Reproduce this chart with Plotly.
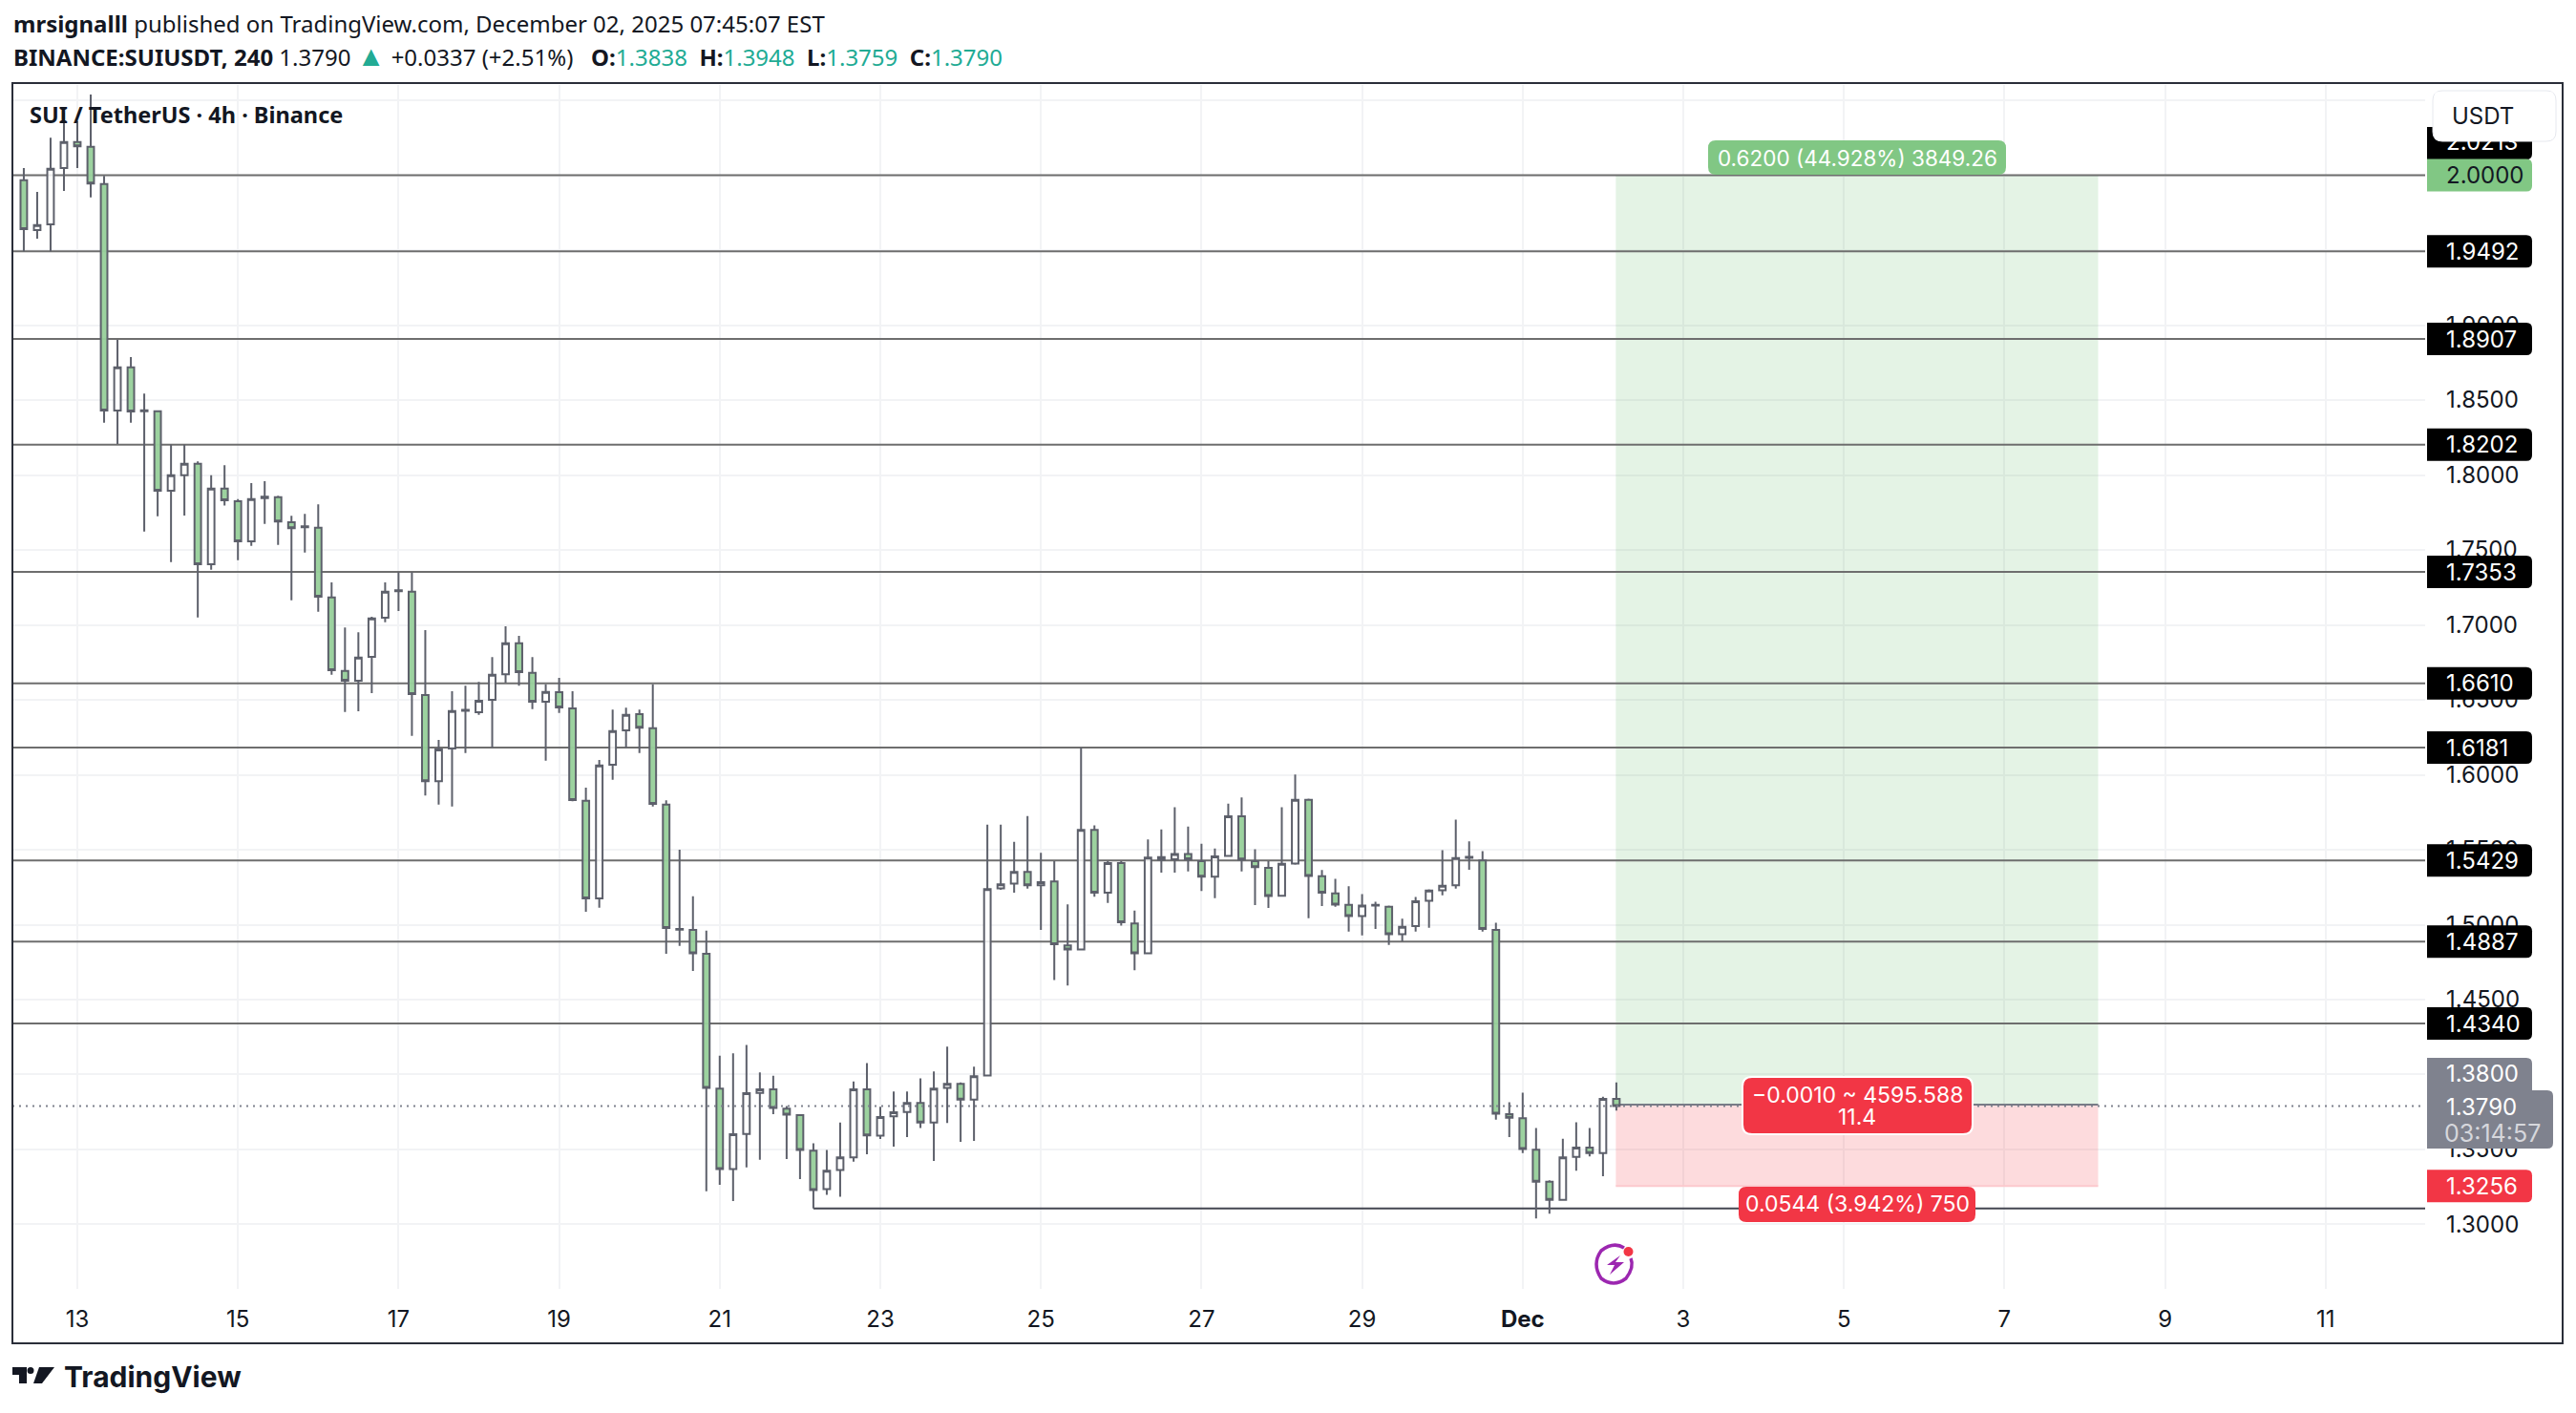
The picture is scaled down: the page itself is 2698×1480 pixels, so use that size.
import pandas as pd
import plotly.graph_objects as go

# 4h candles, first one is Nov 12 08:00
dates = pd.date_range("2025-11-12 08:00", periods=120, freq="4h")

opens = [1.9967, 1.9634, 1.9672, 2.0048, 2.0222, 2.0190, 1.9941, 1.8430, 1.8719, 1.8432,
         1.8425, 1.7895, 1.7999, 1.8075, 1.7404, 1.7910, 1.7825, 1.7557, 1.7855, 1.7852,
         1.7685, 1.7658, 1.7648, 1.7183, 1.6693, 1.6627, 1.6787, 1.7048, 1.7225, 1.7222,
         1.6532, 1.5957, 1.6175, 1.6427, 1.6417, 1.6500, 1.6670, 1.6878, 1.6680, 1.6487,
         1.6551, 1.6443, 1.5827, 1.5175, 1.6067, 1.6296, 1.6404, 1.6311, 1.5801, 1.4972,
         1.4965, 1.4806, 1.3906, 1.3370, 1.3604, 1.3877, 1.3902, 1.3772, 1.3729, 1.3492,
         1.3236, 1.3363, 1.3448, 1.3902, 1.3592, 1.3721, 1.3750, 1.3811, 1.3680, 1.3911,
         1.3938, 1.3833, 1.3994, 1.5242, 1.5274, 1.5352, 1.5262, 1.5289, 1.4862, 1.4835,
         1.5632, 1.5213, 1.5411, 1.5008, 1.4809, 1.5450, 1.5437, 1.5472, 1.5423, 1.5320,
         1.5459, 1.5723, 1.5423, 1.5379, 1.5192, 1.5408, 1.5833, 1.5323, 1.5209, 1.5132,
         1.5058, 1.5128, 1.5119, 1.4937, 1.4990, 1.5160, 1.5230, 1.5262, 1.5446, 1.5429,
         1.4965, 1.3735, 1.3709, 1.3499, 1.3285, 1.3164, 1.3450, 1.3512, 1.3476, 1.3838]
highs = [2.0048, 1.9889, 2.0250, 2.0417, 2.0362, 2.0538, 1.9995, 1.8901, 1.8787, 1.8543,
         1.8430, 1.8203, 1.8203, 1.8091, 1.7999, 1.8065, 1.7839, 1.7946, 1.7959, 1.7861,
         1.7727, 1.7740, 1.7804, 1.7283, 1.6982, 1.6950, 1.7054, 1.7283, 1.7352, 1.7352,
         1.6965, 1.6232, 1.6557, 1.6594, 1.6619, 1.6785, 1.6990, 1.6927, 1.6785, 1.6604,
         1.6646, 1.6557, 1.5914, 1.6099, 1.6434, 1.6447, 1.6434, 1.6604, 1.5829, 1.5500,
         1.5189, 1.4960, 1.4126, 1.4141, 1.4197, 1.4014, 1.3992, 1.3789, 1.3729, 1.3541,
         1.3497, 1.3680, 1.3953, 1.4077, 1.3785, 1.3887, 1.3887, 1.3975, 1.4021, 1.4187,
         1.3948, 1.4053, 1.5667, 1.5667, 1.5552, 1.5725, 1.5479, 1.5423, 1.5135, 1.6181,
         1.5662, 1.5423, 1.5423, 1.5094, 1.5569, 1.5635, 1.5784, 1.5654, 1.5540, 1.5508,
         1.5808, 1.5849, 1.5503, 1.5423, 1.5784, 1.6001, 1.5841, 1.5364, 1.5306, 1.5257,
         1.5204, 1.5153, 1.5128, 1.5039, 1.5185, 1.5236, 1.5497, 1.5701, 1.5555, 1.5491,
         1.5013, 1.3815, 1.3879, 1.3643, 1.3295, 1.3571, 1.3682, 1.3643, 1.3852, 1.3948]
lows = [1.9492, 1.9576, 1.9492, 1.9895, 2.0048, 1.9852, 1.8349, 1.8207, 1.8349, 1.7623,
        1.7725, 1.7419, 1.7729, 1.7050, 1.7368, 1.7797, 1.7432, 1.7527, 1.7674, 1.7534,
        1.7164, 1.7483, 1.7088, 1.6668, 1.6419, 1.6424, 1.6545, 1.7018, 1.7092, 1.6260,
        1.5861, 1.5801, 1.5788, 1.6145, 1.6400, 1.6180, 1.6615, 1.6594, 1.6438, 1.6094,
        1.6413, 1.5823, 1.5086, 1.5113, 1.5967, 1.6180, 1.6145, 1.5788, 1.4806, 1.4859,
        1.4691, 1.3221, 1.3265, 1.3156, 1.3380, 1.3431, 1.3736, 1.3436, 1.3302, 1.3107,
        1.3197, 1.3185, 1.3419, 1.3468, 1.3570, 1.3519, 1.3582, 1.3643, 1.3424, 1.3677,
        1.3551, 1.3558, 1.3994, 1.5233, 1.5213, 1.5240, 1.4965, 1.4631, 1.4594, 1.4835,
        1.5186, 1.5145, 1.4994, 1.4696, 1.4809, 1.5347, 1.5347, 1.5355, 1.5225, 1.5177,
        1.5459, 1.5355, 1.5130, 1.5111, 1.5192, 1.5400, 1.5043, 1.5124, 1.5119, 1.4954,
        1.4928, 1.4971, 1.4865, 1.4888, 1.4954, 1.4979, 1.5196, 1.5240, 1.5366, 1.4954,
        1.3699, 1.3582, 1.3476, 1.3040, 1.3072, 1.3164, 1.3359, 1.3454, 1.3321, 1.3759]
closes = [1.9640, 1.9668, 2.0043, 2.0222, 2.0192, 1.9944, 1.8430, 1.8719, 1.8423, 1.8425,
          1.7895, 1.7999, 1.8075, 1.7404, 1.7910, 1.7831, 1.7557, 1.7839, 1.7845, 1.7689,
          1.7645, 1.7652, 1.7188, 1.6697, 1.6627, 1.6782, 1.7043, 1.7222, 1.7231, 1.6538,
          1.5957, 1.6169, 1.6425, 1.6433, 1.6494, 1.6668, 1.6878, 1.6685, 1.6487, 1.6553,
          1.6449, 1.5831, 1.5175, 1.6062, 1.6292, 1.6400, 1.6313, 1.5806, 1.4978, 1.4966,
          1.4809, 1.3911, 1.3370, 1.3602, 1.3875, 1.3902, 1.3777, 1.3733, 1.3497, 1.3229,
          1.3358, 1.3448, 1.3902, 1.3594, 1.3716, 1.3748, 1.3811, 1.3680, 1.3906, 1.3938,
          1.3833, 1.3989, 1.5238, 1.5269, 1.5352, 1.5262, 1.5284, 1.4869, 1.4835, 1.5632,
          1.5213, 1.5411, 1.5016, 1.4809, 1.5447, 1.5433, 1.5472, 1.5437, 1.5320, 1.5455,
          1.5723, 1.5435, 1.5384, 1.5191, 1.5406, 1.5833, 1.5325, 1.5213, 1.5134, 1.5058,
          1.5128, 1.5132, 1.4937, 1.4986, 1.5156, 1.5228, 1.5260, 1.5444, 1.5452, 1.4971,
          1.3739, 1.3711, 1.3503, 1.3285, 1.3164, 1.3448, 1.3512, 1.3476, 1.3838, 1.3790]

levels = [2.0000, 1.9492, 1.8907, 1.8202, 1.7353, 1.6610, 1.6181, 1.5429, 1.4887, 1.4340]
last_price = 1.3790
entry_price = 1.3800
target_price = 2.0000
stop_price = 1.3256
support_price = 1.3107

price_ticks = [1.30, 1.35, 1.40, 1.45, 1.50, 1.55, 1.60, 1.65, 1.70, 1.75, 1.80, 1.85, 1.90, 1.95, 2.00, 2.05]
day_ticks = ["2025-11-13", "2025-11-15", "2025-11-17", "2025-11-19", "2025-11-21", "2025-11-23", "2025-11-25",
             "2025-11-27", "2025-11-29", "2025-12-01", "2025-12-03", "2025-12-05", "2025-12-07", "2025-12-09",
             "2025-12-11"]
day_labels = ["13", "15", "17", "19", "21", "23", "25", "27", "29", "<b>Dec</b>", "3", "5", "7", "9", "11"]

# page layout in screen pixels (browser body has an 8px margin)
PAD = 8
W, H = 2682, 1464
PANE_L, PANE_R, PANE_T, PANE_B = 13, 2540, 89, 1350
PRICE_TOP, PRICE_BOT = 2.0602, 1.2570
DAY_PX = 84.1
TOOL_END = "2025-12-08 04:00"

NAVY = "#131722"
CANDLE = "#5d606b"
LEVEL = "#6e6e6e"
GRID = "#f2f3f5"
RED = "#f23645"
GREEN = "#81c784"
GREY = "#7f828e"
TEAL = "#22ab94"
SP = "\u00a0"


def fx(px):
    return (px - PAD) / W


def fy(py):
    return 1 - (py - PAD) / H


def price_y(p):
    return PANE_T + (PRICE_TOP - p) / (PRICE_TOP - PRICE_BOT) * (PANE_B - PANE_T)


def rounded(x0, y0, x1, y1, r=6, left=True):
    """Rounded box as a paper path, from screen pixels."""
    rl = r if left else 0
    pts = [
        f"M {fx(x0 + rl)} {fy(y0)}", f"L {fx(x1 - r)} {fy(y0)}", f"Q {fx(x1)} {fy(y0)} {fx(x1)} {fy(y0 + r)}",
        f"L {fx(x1)} {fy(y1 - r)}", f"Q {fx(x1)} {fy(y1)} {fx(x1 - r)} {fy(y1)}", f"L {fx(x0 + rl)} {fy(y1)}",
        f"Q {fx(x0)} {fy(y1)} {fx(x0)} {fy(y1 - rl)}", f"L {fx(x0)} {fy(y0 + rl)}",
        f"Q {fx(x0)} {fy(y0)} {fx(x0 + rl)} {fy(y0)}", "Z",
    ]
    return " ".join(pts)


def poly(points):
    return "M " + " L ".join(f"{fx(a)} {fy(b)}" for a, b in points) + " Z"


def box(path, fill, line=None, lw=0):
    return dict(type="path", path=path, xref="paper", yref="paper", fillcolor=fill,
                line=dict(color=line or fill, width=lw), layer="above")


def label(text, px, py, size=24, color=NAVY, family="Inter", anchor="left"):
    return dict(text=text, x=fx(px), y=fy(py), xref="paper", yref="paper", xanchor=anchor, yanchor="middle",
                showarrow=False, borderpad=0, font=dict(size=size, color=color, family=family))


fig = go.Figure()
fig.add_trace(go.Candlestick(
    x=dates, open=opens, high=highs, low=lows, close=closes, whiskerwidth=0, showlegend=False,
    increasing=dict(line=dict(color=CANDLE, width=2), fillcolor="rgba(255,255,255,0.85)"),
    decreasing=dict(line=dict(color=CANDLE, width=2), fillcolor="rgba(153,209,156,0.97)"),
))

origin = pd.Timestamp(day_ticks[0])
x_left = origin + pd.Timedelta(days=(PANE_L - 81) / DAY_PX)
x_right = origin + pd.Timedelta(days=(PANE_R - 81) / DAY_PX)
tool_start = dates[-1] - pd.Timedelta(minutes=10)

shapes = []
# risk/reward tool, "between" keeps it over the grid and under the candles
shapes.append(dict(type="rect", xref="x", yref="y", x0=tool_start, x1=TOOL_END, y0=entry_price, y1=target_price,
                   fillcolor="rgba(76,175,80,0.15)", line=dict(width=0), layer="between"))
shapes.append(dict(type="rect", xref="x", yref="y", x0=tool_start, x1=TOOL_END, y0=stop_price, y1=entry_price,
                   fillcolor="rgba(242,54,69,0.18)", line=dict(width=0), layer="between"))
shapes.append(dict(type="line", xref="x", yref="y", x0=tool_start, x1=TOOL_END, y0=entry_price, y1=entry_price,
                   line=dict(color="#787b86", width=2), layer="between"))
shapes.append(dict(type="line", xref="x", yref="y", x0=tool_start, x1=TOOL_END, y0=stop_price, y1=stop_price,
                   line=dict(color="#fbc9cd", width=2), layer="between"))

# drawn levels
for lv in levels:
    shapes.append(dict(type="line", xref="x", yref="y", x0=x_left, x1=x_right, y0=lv, y1=lv,
                       line=dict(color=LEVEL, width=2), layer="between"))
shapes.append(dict(type="line", xref="x", yref="y", x0=dates[59], x1=x_right, y0=support_price, y1=support_price,
                   line=dict(color="#434651", width=2), layer="between"))
shapes.append(dict(type="line", xref="x", yref="y", x0=x_left, x1=x_right, y0=last_price, y1=last_price,
                   line=dict(color=GREY, width=2, dash="2px,5px"), layer="above"))

annotations = []

# black badge that peeks out under USDT, its text is cut by the white cover below
shapes.append(box(rounded(2542, price_y(2.0213) - 17, 2652, price_y(2.0213) + 17, left=False), "#000000"))
annotations.append(label("2.0213", 2561, 148, color="#ffffff"))
shapes.append(box(rounded(2548, 95, 2677, 148, r=10), "#ffffff", "#e6e8ee", 1))
cover = label(SP, 2612, 121, anchor="center")
cover.update(width=122, height=48, bgcolor="#ffffff")
annotations.append(cover)
annotations.append(label("USDT", 2567, 121, size=24))

for lv in levels[1:]:
    yc = price_y(lv)
    shapes.append(box(rounded(2542, yc - 17, 2652, yc + 17, left=False), "#000000"))
    annotations.append(label(f"{lv:.4f}", 2561, yc, color="#ffffff"))

yc = price_y(target_price)
shapes.append(box(rounded(2542, yc - 17, 2652, yc + 17, left=False), GREEN))
annotations.append(label(f"{target_price:.4f}", 2561, yc, color=NAVY))

shapes.append(box(rounded(2542, 1108, 2652, 1150, left=False), GREY))
annotations.append(label(f"{entry_price:.4f}", 2561, 1124, color="#ffffff"))
shapes.append(box(rounded(2542, 1142, 2674, 1203, left=False), GREY))
annotations.append(label(f"{last_price:.4f}", 2561, 1159, color="#ffffff"))
annotations.append(label("03:14:57", 2559, 1187, size=25, color="#d6d7dc"))

yc = price_y(stop_price)
shapes.append(box(rounded(2542, yc - 17, 2652, yc + 17, left=False), RED))
annotations.append(label(f"{stop_price:.4f}", 2561, yc, color="#ffffff"))

# tool badges
shapes.append(box(rounded(1789, 147, 2101, 183, r=8), GREEN))
annotations.append(label("0.6200 (44.928%) 3849.26", 1945, 165, size=22.5, color="#ffffff", anchor="center"))
shapes.append(box(rounded(1825, 1128, 2066, 1188, r=10), RED, "#ffffff", 2))
annotations.append(label("−0.0010 ~ 4595.588", 1945, 1147, size=23, color="#ffffff", anchor="center"))
annotations.append(label("11.4", 1945, 1170, size=23, color="#ffffff", anchor="center"))
shapes.append(box(rounded(1821, 1243, 2069, 1280, r=8), RED))
annotations.append(label("0.0544 (3.942%) 750", 1945, 1261, size=23, color="#ffffff", anchor="center"))

# frame
shapes.append(dict(type="rect", xref="paper", yref="paper", x0=fx(13), x1=fx(2684), y0=fy(1407), y1=fy(87),
                   line=dict(color="#2a2e39", width=2), fillcolor="rgba(0,0,0,0)", layer="above"))

# ideas icon: ring with a gap, bolt and red dot
ring = ("M {} {} Q {} {} {} {} Q {} {} {} {} Q {} {} {} {} Q {} {} {} {}").format(
    fx(1701), fy(1307), fx(1690), fy(1300), fx(1677), fy(1310),
    fx(1667), fy(1324), fx(1677), fy(1339), fx(1690), fy(1349), fx(1703), fy(1339),
    fx(1712), fy(1327), fx(1708), fy(1318))
shapes.append(dict(type="path", path=ring, xref="paper", yref="paper", line=dict(color="#9c27b0", width=3.5),
                   fillcolor="rgba(0,0,0,0)", layer="above"))
shapes.append(box(poly([(1697, 1315), (1683, 1325), (1691, 1325), (1686, 1335), (1701, 1322), (1692, 1322)]),
                  "#9c27b0"))
shapes.append(dict(type="circle", xref="paper", yref="paper", x0=fx(1700.5), x1=fx(1710.5), y0=fy(1316), y1=fy(1306),
                   fillcolor=RED, line=dict(width=0), layer="above"))

# TradingView logo
shapes.append(box(poly([(13, 1432), (28, 1432), (28, 1449), (20, 1449), (20, 1440), (13, 1440)]), NAVY))
shapes.append(dict(type="circle", xref="paper", yref="paper", x0=fx(28.5), x1=fx(35.5), y0=fy(1439), y1=fy(1432),
                   fillcolor=NAVY, line=dict(width=0), layer="above"))
shapes.append(box(poly([(41, 1432), (57, 1432), (44, 1449), (35, 1449)]), NAVY))
annotations.append(label("<b>TradingView</b>", 66, 1442, size=30, family="Inter"))

# header
annotations.append(label("<b>mrsignalll</b> published on TradingView.com, December 02, 2025 07:45:07 EST",
                         13, 24, size=24, family="Noto Sans"))
annotations.append(label(
    f"<b>BINANCE:SUIUSDT, 240</b> 1.3790 "
    f"<span style='color:{TEAL};font-size:30px'>▲</span> +0.0337 (+2.51%) {SP}{SP}"
    f"<b>O:</b><span style='color:{TEAL}'>1.3838</span> {SP}<b>H:</b><span style='color:{TEAL}'>1.3948</span> {SP}"
    f"<b>L:</b><span style='color:{TEAL}'>1.3759</span> {SP}<b>C:</b><span style='color:{TEAL}'>1.3790</span>",
    13, 58, size=24, family="Noto Sans"))
annotations.append(label("<b>SUI / TetherUS · 4h · Binance</b>", 30, 120, size=23.5, family="Noto Sans"))

fig.update_layout(
    width=W, height=H, margin=dict(l=0, r=0, t=0, b=0),
    paper_bgcolor="white", plot_bgcolor="white", boxgap=0.3,
    shapes=shapes, annotations=annotations,
    xaxis=dict(
        type="date", range=[x_left, x_right], domain=[fx(PANE_L), fx(PANE_R)], rangeslider=dict(visible=False),
        tickmode="array", tickvals=day_ticks, ticktext=day_labels, showgrid=True, gridcolor=GRID, gridwidth=2,
        zeroline=False, showline=False, ticks="", ticklabelstandoff=15,
        tickfont=dict(size=24, color=NAVY, family="Inter"),
    ),
    yaxis=dict(
        range=[PRICE_BOT, PRICE_TOP], domain=[fy(PANE_B), fy(PANE_T)], side="right",
        tickmode="array", tickvals=price_ticks, ticktext=[f"{p:.4f}" for p in price_ticks],
        showgrid=True, gridcolor=GRID, gridwidth=2, zeroline=False, showline=False, ticks="", ticklabelstandoff=21,
        tickfont=dict(size=24, color=NAVY, family="Inter"),
    ),
)

fig.write_html("out.html")
